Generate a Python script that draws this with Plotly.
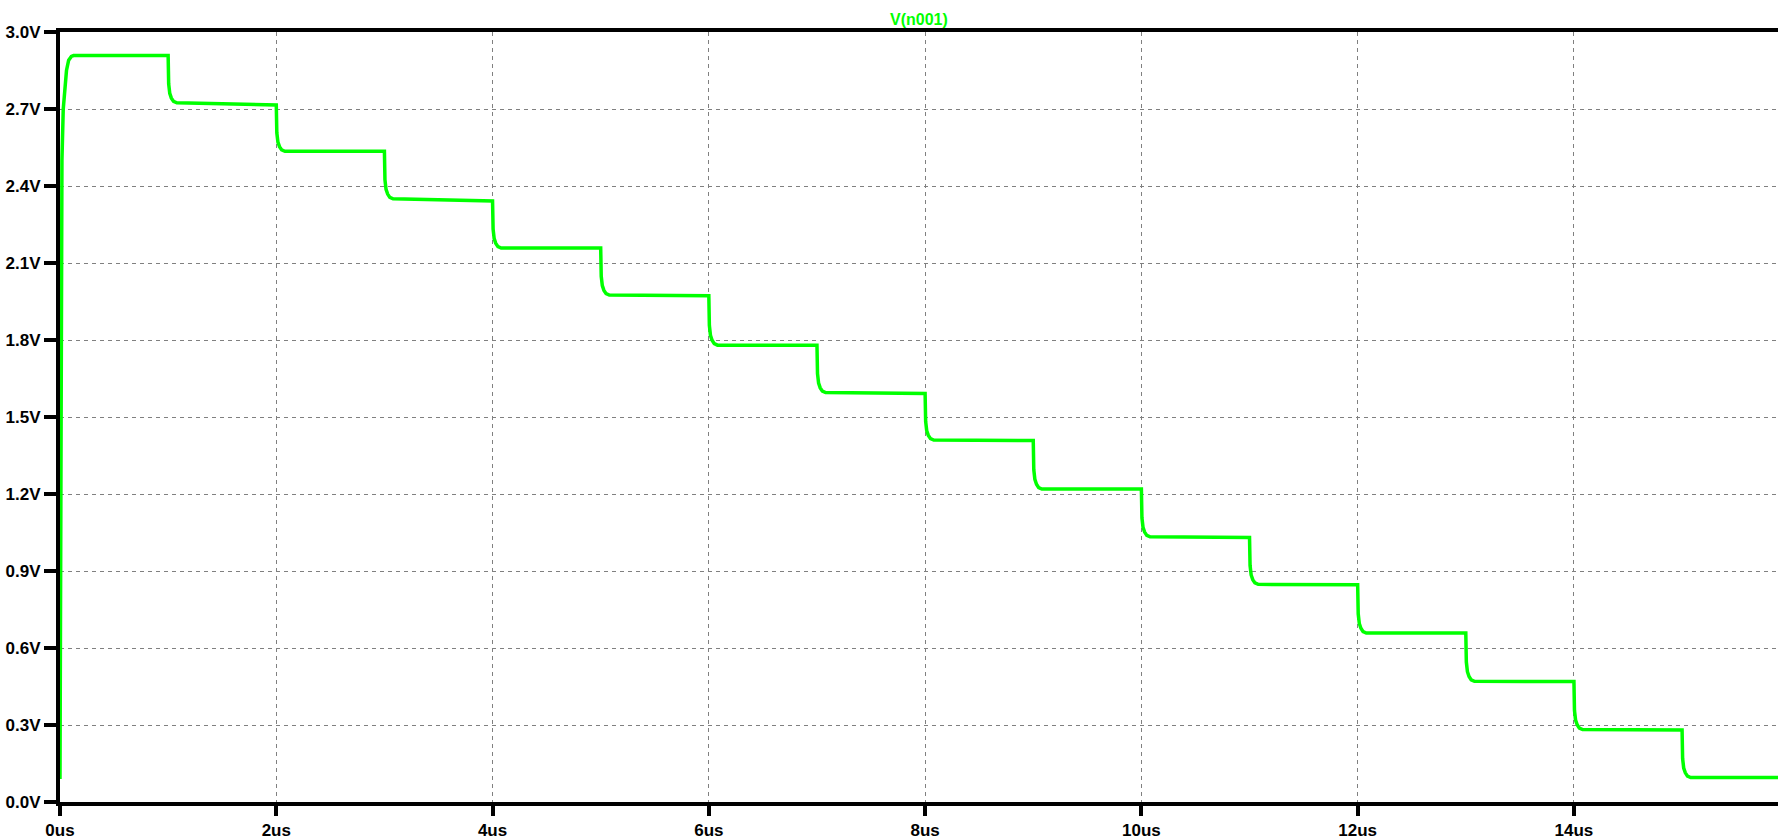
import plotly.graph_objects as go

# ---- data ----
# initial rise (us, V)
rise_t = [0.0, 0.004, 0.010, 0.018, 0.030, 0.045, 0.060, 0.080, 0.105, 0.125]
rise_v = [0.09, 1.03, 1.80, 2.50, 2.70, 2.79, 2.85, 2.89, 2.905, 2.908]

# step edges (us) and plateau levels (V) at start / end of each plateau
step_times = [1, 2, 3, 4, 5, 6, 7, 8, 9, 10, 11, 12, 13, 14, 15]
level_start = [2.908, 2.724, 2.535, 2.350, 2.158, 1.975, 1.780, 1.595, 1.410, 1.219, 1.033, 0.848, 0.658, 0.470, 0.282, 0.095]
level_end   = [2.908, 2.716, 2.535, 2.342, 2.158, 1.972, 1.780, 1.592, 1.408, 1.219, 1.031, 0.846, 0.658, 0.469, 0.281, 0.095]

# shape of each falling edge: time offset (us) and fraction of the drop completed
edge_dt   = [0.0, 0.005, 0.015, 0.030, 0.050, 0.080]
edge_frac = [0.0, 0.60, 0.80, 0.90, 0.97, 1.0]

t_stop = 15.887

y_ticks = [0.0, 0.3, 0.6, 0.9, 1.2, 1.5, 1.8, 2.1, 2.4, 2.7, 3.0]
y_labels = ["0.0V", "0.3V", "0.6V", "0.9V", "1.2V", "1.5V", "1.8V", "2.1V", "2.4V", "2.7V", "3.0V"]
x_ticks = [0, 2, 4, 6, 8, 10, 12, 14]
x_labels = ["0us", "2us", "4us", "6us", "8us", "10us", "12us", "14us"]

# ---- build waveform ----
t = list(rise_t)
v = list(rise_v)
for i, tk in enumerate(step_times):
    a = level_end[i]
    b = level_start[i + 1]
    for dt, f in zip(edge_dt, edge_frac):
        t.append(tk + dt)
        v.append(a + (b - a) * f)
t.append(t_stop)
v.append(level_end[-1])

fig = go.Figure()
fig.add_trace(go.Scatter(x=t, y=v, mode="lines",
                         line=dict(color="#00FF00", width=3.5),
                         name="V(n001)", showlegend=False, hoverinfo="skip"))

font_bold = dict(family="Liberation Sans, Arial, sans-serif", size=17, color="black", weight="bold")

fig.update_layout(
    width=1778, height=840,
    margin=dict(l=60, r=0, t=32, b=32),
    paper_bgcolor="white", plot_bgcolor="white",
    showlegend=False,
    xaxis=dict(range=[0, t_stop], tickvals=x_ticks, ticktext=x_labels,
               showline=True, linecolor="black", linewidth=4, mirror=True,
               ticks="outside", ticklen=10, tickwidth=4, tickcolor="black",
               showgrid=True, gridcolor="#808080", gridwidth=1, griddash="4px,4px",
               zeroline=False, tickfont=font_bold, fixedrange=True),
    yaxis=dict(range=[0, 3.0], tickvals=y_ticks, ticktext=y_labels,
               showline=True, linecolor="black", linewidth=4,
               ticks="outside", ticklen=12, tickwidth=4, tickcolor="black",
               showgrid=True, gridcolor="#808080", gridwidth=1, griddash="4px,4px",
               zeroline=False, tickfont=font_bold, fixedrange=True,
               ticklabelstandoff=0),
    annotations=[dict(text="V(n001)", xref="paper", yref="paper", x=0.5, y=1,
                      xanchor="center", yanchor="bottom", yshift=2, showarrow=False,
                      font=dict(family="Liberation Sans, Arial, sans-serif", size=16,
                                color="#00FF00", weight="bold"))],
)

fig.write_html("out.html", config={"displayModeBar": False})
